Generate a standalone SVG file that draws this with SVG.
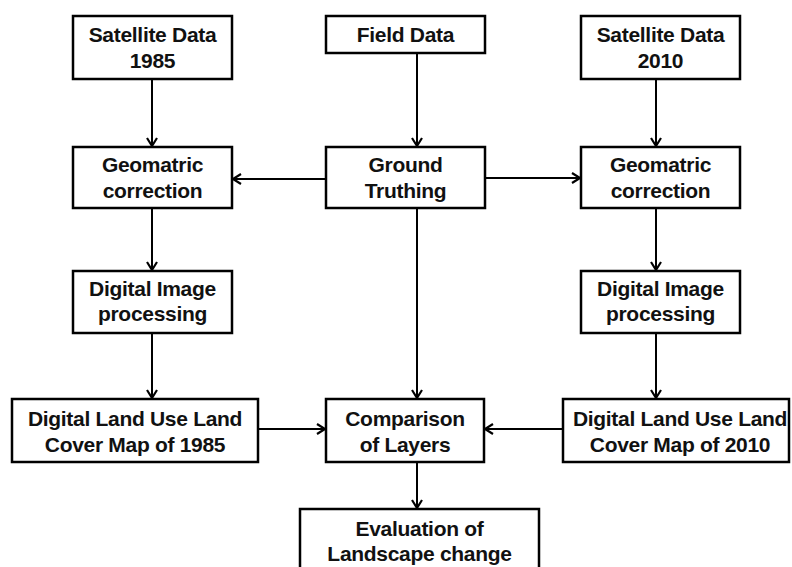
<svg xmlns="http://www.w3.org/2000/svg" width="792" height="567" viewBox="0 0 792 567">
<style>
.box{fill:#fff;stroke:#000;stroke-width:2.5}
.t{font-family:"Liberation Sans",Arial,sans-serif;font-weight:bold;font-size:21px;fill:#111;text-anchor:middle;letter-spacing:-0.3px}
.c{stroke:#000;stroke-width:2;fill:none}
</style>
<defs>
<marker id="ah" markerUnits="userSpaceOnUse" markerWidth="14" markerHeight="14" refX="10" refY="6" orient="auto">
<path d="M2,1 L10,6 L2,11" fill="none" stroke="#000" stroke-width="2.2"/>
</marker>
</defs>
<rect width="792" height="567" fill="#fff"/>
<g id="connectors">
<line class="c" x1="152" y1="79" x2="152" y2="146" marker-end="url(#ah)"/>
<line class="c" x1="152" y1="208" x2="152" y2="270" marker-end="url(#ah)"/>
<line class="c" x1="152" y1="333" x2="152" y2="398" marker-end="url(#ah)"/>
<line class="c" x1="417" y1="53" x2="417" y2="146" marker-end="url(#ah)"/>
<line class="c" x1="417" y1="208" x2="417" y2="398" marker-end="url(#ah)"/>
<line class="c" x1="656" y1="79" x2="656" y2="146" marker-end="url(#ah)"/>
<line class="c" x1="656" y1="208" x2="656" y2="270" marker-end="url(#ah)"/>
<line class="c" x1="656" y1="333" x2="656" y2="398" marker-end="url(#ah)"/>
<line class="c" x1="326" y1="179" x2="233" y2="179" marker-end="url(#ah)"/>
<line class="c" x1="485" y1="178" x2="580" y2="178" marker-end="url(#ah)"/>
<line class="c" x1="258" y1="429" x2="325" y2="429" marker-end="url(#ah)"/>
<line class="c" x1="563" y1="429" x2="485" y2="429" marker-end="url(#ah)"/>
<line class="c" x1="417" y1="462" x2="417" y2="508" marker-end="url(#ah)"/>
</g>
<g id="sat1985"><rect class="box" x="73" y="16" width="159" height="63"/><text class="t" x="152.5" y="42">Satellite Data</text><text class="t" x="152.5" y="68">1985</text></g>
<g id="field"><rect class="box" x="326" y="16" width="159" height="37"/><text class="t" x="405.5" y="42">Field Data</text></g>
<g id="sat2010"><rect class="box" x="581" y="16" width="159" height="63"/><text class="t" x="660.5" y="42">Satellite Data</text><text class="t" x="660.5" y="68">2010</text></g>
<g id="geo1"><rect class="box" x="73" y="147" width="159" height="61"/><text class="t" x="152.5" y="172">Geomatric</text><text class="t" x="152.5" y="198">correction</text></g>
<g id="ground"><rect class="box" x="326" y="147" width="159" height="61"/><text class="t" x="405.5" y="172">Ground</text><text class="t" x="405.5" y="198">Truthing</text></g>
<g id="geo2"><rect class="box" x="581" y="147" width="159" height="61"/><text class="t" x="660.5" y="172">Geomatric</text><text class="t" x="660.5" y="198">correction</text></g>
<g id="dip1"><rect class="box" x="73" y="271" width="159" height="62"/><text class="t" x="152.5" y="296">Digital Image</text><text class="t" x="152.5" y="321">processing</text></g>
<g id="dip2"><rect class="box" x="581" y="271" width="159" height="62"/><text class="t" x="660.5" y="296">Digital Image</text><text class="t" x="660.5" y="321">processing</text></g>
<g id="lulc1985"><rect class="box" x="12" y="399" width="246" height="63"/><text class="t" x="135" y="426">Digital Land Use Land</text><text class="t" x="135" y="452">Cover Map of 1985</text></g>
<g id="compare"><rect class="box" x="326" y="399" width="158" height="63"/><text class="t" x="405" y="426">Comparison</text><text class="t" x="405" y="452">of Layers</text></g>
<g id="lulc2010"><rect class="box" x="563" y="399" width="226" height="63"/><text class="t" x="680" y="426">Digital Land Use Land</text><text class="t" x="680" y="452">Cover Map of 2010</text></g>
<g id="eval"><rect class="box" x="300" y="509" width="239" height="64"/><text class="t" x="419.5" y="536">Evaluation of</text><text class="t" x="419.5" y="561">Landscape change</text></g>
</svg>
